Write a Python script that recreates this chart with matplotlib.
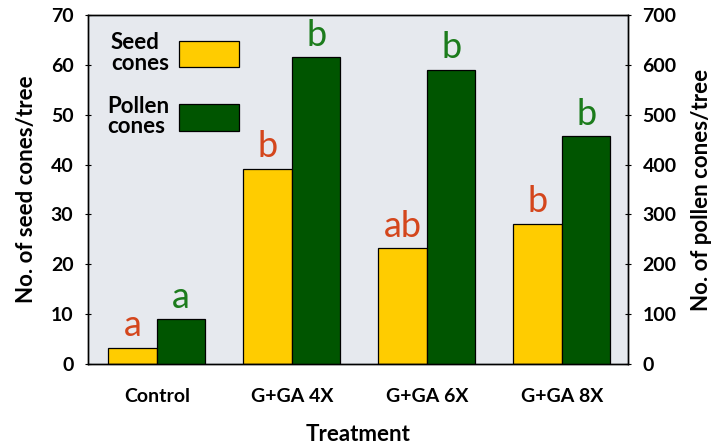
import matplotlib
matplotlib.use("Agg")
import matplotlib.pyplot as plt
import numpy as np
from matplotlib.patches import Patch

categories = ["Control", "G+GA 4X", "G+GA 6X", "G+GA 8X"]
seed_cones = [3.2, 39.2, 23.2, 28.1]
pollen_cones = [90, 615, 590, 457]
seed_letters = ["a", "b", "ab", "b"]
pollen_letters = ["a", "b", "b", "b"]

YELLOW = "#ffcc00"
DGREEN = "#005500"
RED_TXT = "#d4461c"
GRN_TXT = "#1c7c1c"
BG = "#e6e9ee"

plt.rcParams['font.family'] = ['Lato', 'DejaVu Sans']

fig = plt.figure(figsize=(7.17, 4.47), dpi=100)
ax = fig.add_axes([88/717, 1-364/447, 540/717, 349/447])
ax2 = ax.twinx()
ax.set_facecolor(BG)

x = np.arange(len(categories))
w = 0.36
b1 = ax.bar(x - w/2, seed_cones, w, color=YELLOW, edgecolor="black", linewidth=0.9, zorder=2)
b2 = ax2.bar(x + w/2, pollen_cones, w, color=DGREEN, edgecolor="black", linewidth=0.9, zorder=2)

ax.set_xlim(-0.5 - 0.01, 3.5 - 0.01)
ax.set_ylim(0, 70)
ax2.set_ylim(0, 700)
ax.set_yticks(np.arange(0, 71, 10))
ax2.set_yticks(np.arange(0, 701, 100))

for xi, v, t in zip(x, seed_cones, seed_letters):
    ax.annotate(t, (xi - w/2, v), xytext=(0, 4), textcoords="offset points",
                ha="center", va="bottom", fontsize=26, color=RED_TXT)
for xi, v, t in zip(x, pollen_cones, pollen_letters):
    ax2.annotate(t, (xi + w/2, v), xytext=(0, 4), textcoords="offset points",
                 ha="center", va="bottom", fontsize=26, color=GRN_TXT)

ax.set_xticks(x)
ax.set_xticklabels(categories, fontsize=14, fontweight="bold")
ax.tick_params(axis="x", length=0, pad=17)
ax.tick_params(axis="y", direction="inout", length=5, width=0.8, labelsize=14, pad=8)
ax2.tick_params(axis="y", direction="inout", length=5, width=0.8, labelsize=14, pad=8)
for lab in ax.get_yticklabels() + ax2.get_yticklabels():
    lab.set_fontweight("bold")

ax.set_ylabel("No. of seed cones/tree", fontsize=16, fontweight="bold", labelpad=10)
ax2.set_ylabel("No. of pollen cones/tree", fontsize=16, fontweight="bold", labelpad=10)
ax.set_xlabel("Treatment", fontsize=16, fontweight="bold", labelpad=14)

for sp in list(ax.spines.values()) + list(ax2.spines.values()):
    sp.set_linewidth(1.0)

handles = [Patch(facecolor=YELLOW, edgecolor="black", linewidth=0.9),
           Patch(facecolor=DGREEN, edgecolor="black", linewidth=0.9)]
leg = ax2.legend(handles, ["Seed\ncones", "Pollen\ncones"], loc="upper left",
                 bbox_to_anchor=(0.035, 0.95), borderaxespad=0, borderpad=0,
                 markerfirst=False, frameon=False,
                 handlelength=2.7, handleheight=1.45, handletextpad=0.45,
                 labelspacing=1.0, prop={"family": ["Lato"], "weight": "bold", "size": 16})
for t in leg.get_texts():
    t.set_multialignment("left")
    t.set_linespacing(0.95)

fig.savefig("out.png", dpi=100)
